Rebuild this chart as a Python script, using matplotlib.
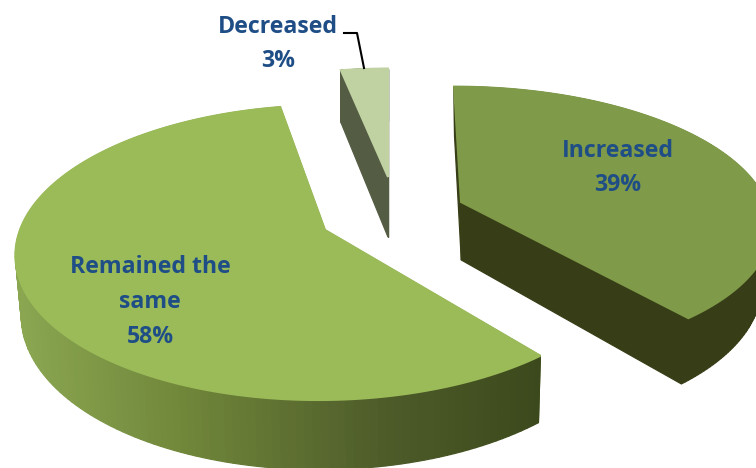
import numpy as np
import matplotlib
matplotlib.use("Agg")
import matplotlib.pyplot as plt
from matplotlib.colors import to_rgb
from matplotlib.patches import Polygon

# share of responses, clockwise from 12 o'clock
categories = ["Increased", "Remained the\nsame", "Decreased"]
shares = [39, 58, 3]

# fake 3D look: where each exploded slice sits and how it is squashed
apex = [(461, 202), (325, 230), (388, 177)]
radius_x = [305, 305, 289]
radius_y = [133, 144, 125]
lean = [-0.06, 0.04, 0.0]
depth = [58, 59, 60]
wall_vanish = [470, 410, 340]
wall_shrink = [0.032, 0.015, 0.0]
top_colors = ["#7f9a48", "#9bbb59", "#c0d2a2"]
wall_colors = [
    [(0, "#373e17"), (756, "#373e17")],
    [(20, "#8aa651"), (190, "#6f8539"), (380, "#4e5c2a"), (540, "#3c491c")],
    [(0, "#545c44"), (756, "#545c44")],
]
label_pos = [(618, 168), (150, 302), (278, 44)]

PERSPECTIVE = 0.153
TEXT_COLOR = "#1f4e86"


def project(i, theta):
    x, y = np.sin(theta), np.cos(theta)
    w = 1 + PERSPECTIVE * y
    py = -radius_y[i] * y / w
    px = radius_x[i] * x / w - lean[i] * py
    return apex[i][0] + px, apex[i][1] + py, w


def wall_color(i, x):
    stops = wall_colors[i]
    xs = [s[0] for s in stops]
    rgb = [to_rgb(s[1]) for s in stops]
    return tuple(np.interp(x, xs, [c[k] for c in rgb]) for k in range(3))


fig = plt.figure(figsize=(7.56, 4.68), dpi=100)
ax = fig.add_axes([0, 0, 1, 1])
ax.set_xlim(0, 756)
ax.set_ylim(468, 0)
ax.axis("off")

edges = np.cumsum([0] + shares) / sum(shares) * 2 * np.pi
for i, name in enumerate(categories):
    theta = np.linspace(edges[i], edges[i + 1], 160)
    px, py, w = project(i, theta)
    ax_, ay_ = apex[i]
    # outline of top face: apex, then along the arc, back to the apex
    top_x = np.r_[ax_, px, ax_]
    top_y = np.r_[ay_, py, ay_]
    top_w = np.r_[1.0, w, 1.0]

    # walls are the top outline pushed down and in toward the vanishing point
    low_x = top_x - (top_x - wall_vanish[i]) * wall_shrink[i]
    low_y = top_y + depth[i] / top_w
    for j in range(len(top_x) - 1):
        quad = [(top_x[j], top_y[j]), (top_x[j + 1], top_y[j + 1]),
                (low_x[j + 1], low_y[j + 1]), (low_x[j], low_y[j])]
        c = wall_color(i, (top_x[j] + top_x[j + 1]) / 2)
        ax.add_patch(Polygon(quad, closed=True, facecolor=c, edgecolor=c, linewidth=0.9, zorder=2 + i * 0.01))

    # slightly heavier edge so the walls behind do not show as a dark fringe
    ax.add_patch(Polygon(np.c_[top_x, top_y], closed=True, facecolor=top_colors[i],
                         edgecolor=top_colors[i], linewidth=1.5, zorder=3))

    lines = f"{name}\n{shares[i]}%"
    ax.text(label_pos[i][0], label_pos[i][1], lines, ha="center", va="center", family="Open Sans",
            fontweight="bold", fontsize=16.7, color=TEXT_COLOR, linespacing=1.6, zorder=5)

# leader line for the small slice
ax.plot([344, 357, 364], [33, 33, 68], color="black", lw=1.5, zorder=4)

plt.savefig("out.png", dpi=100)
plt.close()
